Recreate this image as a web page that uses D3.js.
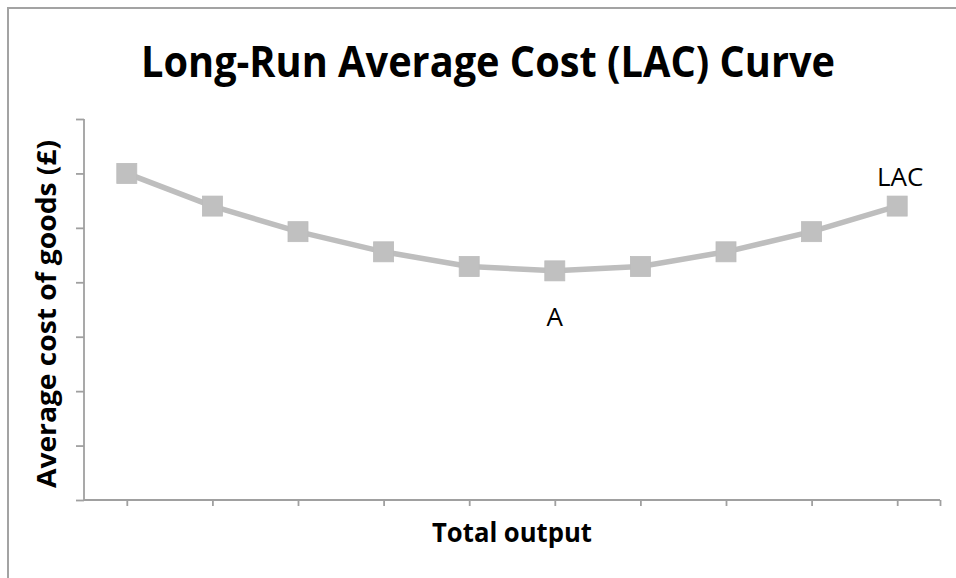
<!DOCTYPE html>
<html>
<head>
<meta charset="utf-8">
<script src="https://cdn.jsdelivr.net/npm/d3@7"></script>
<style>
  html, body { margin: 0; padding: 0; background: #fff; }
  svg { display: block; }
</style>
</head>
<body>
<svg id="chart" width="956" height="578"></svg>
<script>
// Output levels (positions along the x axis) and the long-run average cost at each
const outputSteps = [0, 1, 2, 3, 4, 5, 6, 7, 8, 9];
const lacValues = [6.0, 5.40, 4.93, 4.56, 4.29, 4.21, 4.29, 4.56, 4.93, 5.40];
const yTickValues = [0, 1, 2, 3, 4, 5, 6, 7];
const pointLabels = [
  { index: 5, text: "A", where: "below" },
  { index: 9, text: "LAC", where: "above" }
];

const svg = d3.select("#chart");
const font = "'Open Sans', 'Noto Sans', sans-serif";
const axisColor = "#a0a0a0";
const seriesColor = "#bebebe";

// Chart frame
svg.append("rect")
  .attr("x", 8).attr("y", 8)
  .attr("width", 1000).attr("height", 1000)
  .attr("fill", "#fff")
  .attr("stroke", "#a3a3a3").attr("stroke-width", 2);

const x = d3.scaleLinear().domain([-0.5, 9.5]).range([84, 940]);
const y = d3.scaleLinear().domain([0, 7]).range([500, 119]);

// Y axis: line with outward ticks, no labels
const yAxis = d3.axisLeft(y).tickValues(yTickValues).tickSize(8).tickFormat("");
const gy = svg.append("g").attr("transform", `translate(${x(-0.5)},0)`).call(yAxis);
gy.select(".domain").attr("stroke", axisColor).attr("stroke-width", 1.8).attr("d", `M0,${y(7)}V${y(0)}`);
gy.selectAll(".tick line").attr("stroke", axisColor).attr("stroke-width", 1.8);

// X axis: ticks on each output step plus the closing tick at the end
const xAxis = d3.axisBottom(x).tickValues(outputSteps.concat([9.5])).tickSize(6).tickFormat("");
const gx = svg.append("g").attr("transform", `translate(0,${y(0)})`).call(xAxis);
gx.select(".domain").attr("stroke", axisColor).attr("stroke-width", 1.8).attr("d", `M${x(-0.5)},0H${x(9.5)}`);
gx.selectAll(".tick line").attr("stroke", axisColor).attr("stroke-width", 1.8);

// LAC line
const line = d3.line().x((d, i) => x(outputSteps[i])).y(d => y(d));
svg.append("path")
  .datum(lacValues)
  .attr("d", line)
  .attr("fill", "none")
  .attr("stroke", seriesColor)
  .attr("stroke-width", 5.5)
  .attr("stroke-linejoin", "round");

// Square markers
const m = 20;
svg.selectAll("rect.marker")
  .data(lacValues)
  .join("rect")
  .attr("class", "marker")
  .attr("x", (d, i) => x(outputSteps[i]) - m / 2)
  .attr("y", d => y(d) - m / 2)
  .attr("width", m).attr("height", m)
  .attr("fill", "#c0c0c0")
  .attr("stroke", "#bcbcbc").attr("stroke-width", 0.8);

// Point labels
svg.selectAll("text.plabel")
  .data(pointLabels)
  .join("text")
  .attr("class", "plabel")
  .attr("x", d => x(outputSteps[d.index]) + (d.where === "above" ? 3 : 0))
  .attr("y", d => y(lacValues[d.index]) + (d.where === "below" ? 55 : -20))
  .attr("text-anchor", "middle")
  .attr("font-family", font)
  .attr("font-size", 26)
  .attr("fill", "#000")
  .text(d => d.text);

// Title
svg.append("text")
  .attr("x", 488).attr("y", 77)
  .attr("text-anchor", "middle")
  .attr("font-family", font).attr("font-weight", 700)
  .attr("font-size", 43)
  .attr("textLength", 694).attr("lengthAdjust", "spacingAndGlyphs")
  .text("Long-Run Average Cost (LAC) Curve");

// Axis titles
svg.append("text")
  .attr("x", 512).attr("y", 542)
  .attr("text-anchor", "middle")
  .attr("font-family", font).attr("font-weight", 700)
  .attr("font-size", 26)
  .attr("textLength", 160).attr("lengthAdjust", "spacingAndGlyphs")
  .text("Total output");

svg.append("text")
  .attr("transform", "translate(56,314) rotate(-90)")
  .attr("text-anchor", "middle")
  .attr("font-family", font).attr("font-weight", 700)
  .attr("font-size", 26)
  .attr("textLength", 348).attr("lengthAdjust", "spacingAndGlyphs")
  .text("Average cost of goods (£)");
</script>
</body>
</html>
